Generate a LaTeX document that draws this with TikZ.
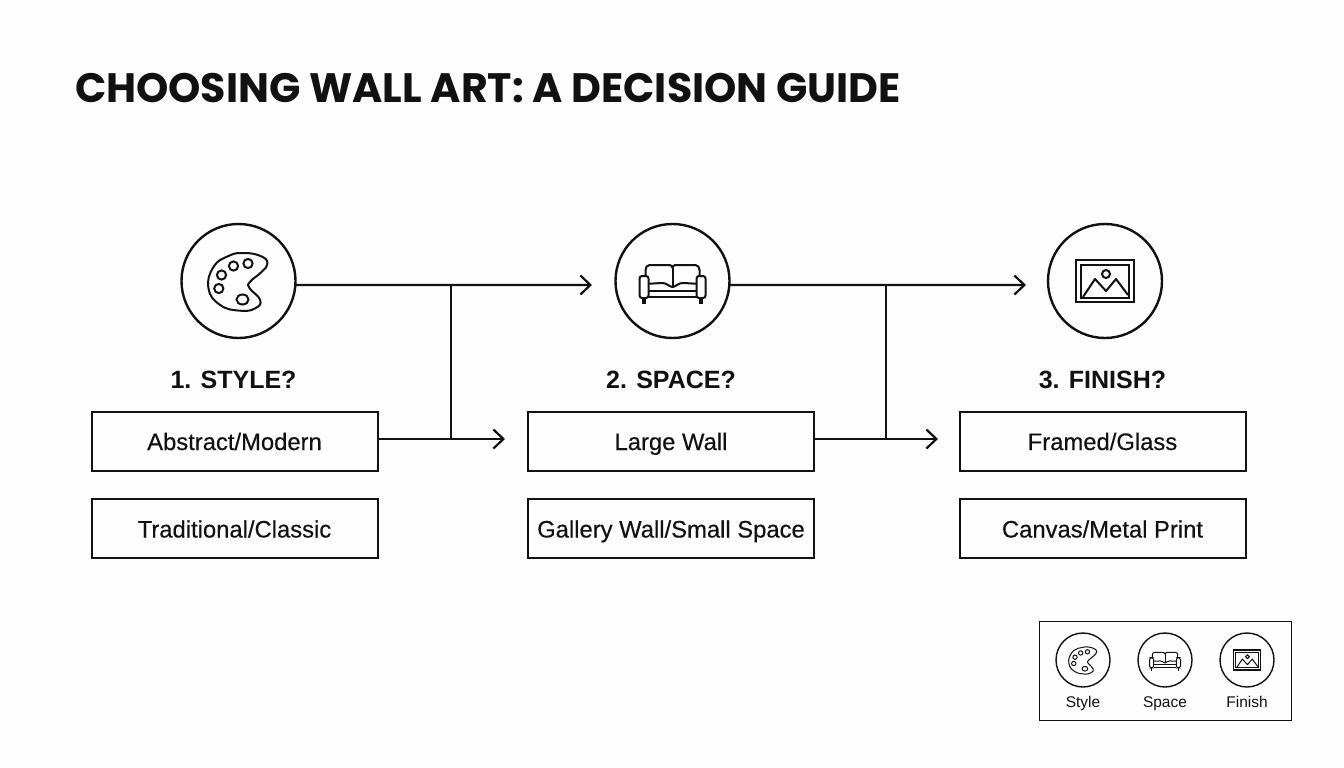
\documentclass[tikz,border=0pt]{standalone}
\usepackage{fontspec}
\setmainfont{Liberation Sans}
\newfontfamily\titlefont{Poppins}
\newfontfamily\boxfont[FakeBold=0.35]{Liberation Sans}
\usetikzlibrary{arrows.meta,positioning}

\definecolor{inkline}{HTML}{111111}
\definecolor{paper}{HTML}{FDFDFD}

\tikzset{
  >={Straight Barb[length=10pt,width=19pt]},
  every node/.style={text=inkline,outer sep=0pt},
  link/.style={draw=inkline,line width=2.2pt},
  iconring/.style={circle,draw=inkline,line width=2.4pt,minimum size=114pt,inner sep=0pt},
  miniring/.style={circle,draw=inkline,line width=1.4pt,minimum size=54pt,inner sep=0pt},
  choicebox/.style={rectangle,draw=inkline,line width=2pt,minimum width=286pt,minimum height=59pt,inner sep=0pt,text height=22pt,text depth=4pt,font=\fontsize{23.8}{28}\boxfont},
  heading/.style={inner sep=0pt,font=\fontsize{25}{30}\selectfont\bfseries},
  minilabel/.style={inner sep=0pt,text height=12pt,text depth=3.5pt,font=\fontsize{15.5}{18}\selectfont},
  pics/palette/.style={code={
    \draw[line cap=round,line join=round] plot[smooth cycle,tension=0.8] coordinates
      {(5,-28) (22,-25) (29,-17.7) (23,-9) (11.7,0.7) (11,7) (21.7,19) (16.7,27.3) (1.7,29.7) (-18.3,24) (-30,7.3) (-25,-14) (-10,-25)};
    \draw (9.5,-17.5) circle (4.6);
    \draw (-5,-15) circle (4.6);
    \draw (-17,-6) circle (4.6);
    \draw (-19.7,7.5) circle (4.6);
    \draw (4,18.5) ellipse (6 and 5);
  }},
  pics/sofa/.style={code={
    \draw[line join=round] (-27,-6) -- (-27,-11) to[out=90,in=180] (-23,-16) -- (-3,-16) to[out=0,in=90] (0,-13)
      to[out=90,in=180] (3,-16) -- (23,-16) to[out=0,in=90] (27,-11) -- (27,-6);
    \draw (0,-13) -- (0,7);
    \draw[rounded corners=2.5] (-33,-5) rectangle (-24,17);
    \draw[rounded corners=2.5] (24,-5) rectangle (33,17);
    \draw (-24,2.5) to[out=-3,in=180] (-10,2) to[out=0,in=170] (0,6) to[out=10,in=180] (10,2) to[out=0,in=183] (24,2.5);
    \draw (-24,10) -- (24,10);
    \draw (-24,16) -- (24,16);
    \draw[line width=1.3*\pgflinewidth] (-28.5,17) -- (-28.5,23);
    \draw[line width=1.3*\pgflinewidth] (28.5,17) -- (28.5,23);
  }},
  pics/frame/.style={code={
    \draw[line width=1.2*\pgflinewidth] (-29,-21) rectangle (29,21);
    \draw (-24,-16) rectangle (24,16.5);
    \draw[line join=round] (-22,16) -- (-10,-2) -- (1,10) -- (11,-2) -- (23,14);
    \draw (1,-7) circle (4);
  }}
}

\begin{document}
\begin{tikzpicture}[x=1pt,y=-1pt]
\useasboundingbox (0,0) rectangle (1344,768);
\fill[paper] (0,0) rectangle (1344,768);

\node[anchor=west,inner sep=0pt,font=\fontsize{41.1}{48}\selectfont\titlefont\bfseries] (title) at (75,88) {CHOOSING WALL ART: A DECISION GUIDE};

% step circles
\node[iconring] (style) at (238.5,281) {};
\node[iconring,right=320pt of style] (space) {};
\node[iconring,right=318.5pt of space] (finish) {};
\pic[draw=inkline,line width=2pt] at (style) {palette};
\pic[draw=inkline,line width=2pt] at (space) {sofa};
\pic[draw=inkline,line width=2pt] at (finish) {frame};

% choices
\node[choicebox] (abstract) at (234.5,441) {Abstract/Modern};
\node[choicebox,below=28.5pt of abstract] (classic) {Traditional/Classic};
\node[choicebox,right=150.5pt of abstract] (large) {Large Wall};
\node[choicebox,below=28.5pt of large] (gallery) {Gallery Wall/Small Space};
\node[choicebox,right=145.5pt of large] (framed) {Framed/Glass};
\node[choicebox,below=28.5pt of framed] (canvas) {Canvas/Metal Print};

\node[heading,above=23pt of abstract,xshift=-1pt] (styleq) {1. STYLE?};
\node[heading,above=23pt of large] (spaceq) {2. SPACE?};
\node[heading,above=23pt of framed] (finishq) {3. FINISH?};

% connectors
\coordinate (spacein) at (592,285);
\coordinate (finishin) at (1026,285);
\coordinate (largein) at (505,439);
\coordinate (framedin) at (938,439);
\coordinate (stylejoin) at (451,285);
\coordinate (spacejoin) at (886,285);

\draw[link,->] (style.-4) -- (spacein);
\draw[link,->] (space.-4) -- (finishin);
\draw[link,->] (abstract.east |- largein) -- (largein);
\draw[link,->] (large.east |- framedin) -- (framedin);
\draw[link] (stylejoin) -- (stylejoin |- largein);
\draw[link] (spacejoin) -- (spacejoin |- framedin);

% legend
\node[draw=inkline,line width=1.6pt,minimum width=252pt,minimum height=99pt,inner sep=0pt] (legend) at (1165.5,671) {};
\node[miniring] (ministyle) at (1083,660) {};
\node[miniring,right=28pt of ministyle] (minispace) {};
\node[miniring,right=28pt of minispace] (minifinish) {};
\pic[draw=inkline,line width=1pt,scale=0.47] at (ministyle) {palette};
\pic[draw=inkline,line width=1pt,scale=0.47] at (minispace) {sofa};
\pic[draw=inkline,line width=1pt,scale=0.47] at (minifinish) {frame};
\node[minilabel,below=8pt of ministyle] (stylelabel) {Style};
\node[minilabel,below=8pt of minispace] (spacelabel) {Space};
\node[minilabel,below=8pt of minifinish] (finishlabel) {Finish};

\end{tikzpicture}
\end{document}
